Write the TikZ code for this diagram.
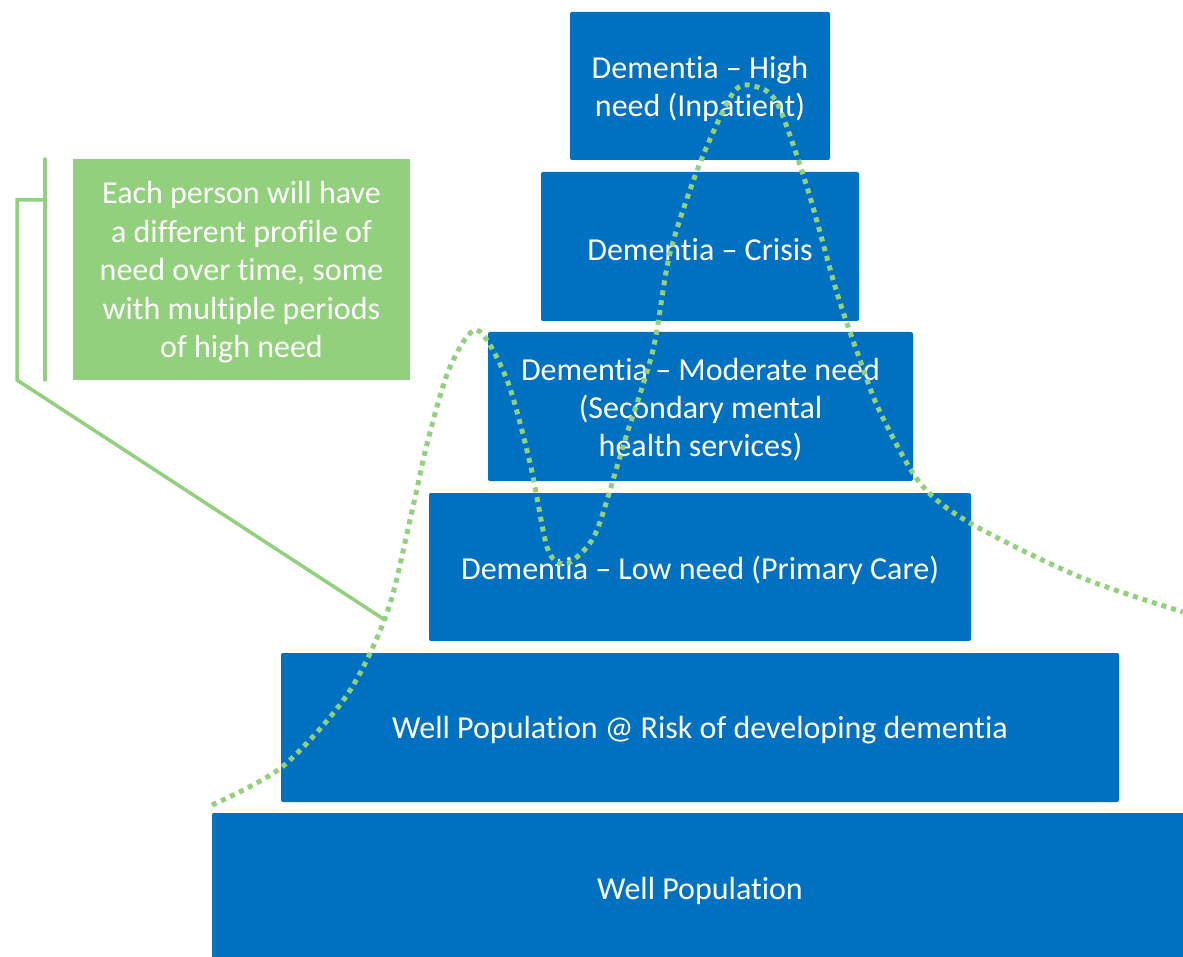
\documentclass[tikz,border=0pt]{standalone}
\usepackage{fontspec}
\setmainfont{Carlito}[Ligatures={NoCommon}]
\definecolor{pblue}{HTML}{0070C0}
\definecolor{pgreen}{RGB}{146,208,125}
\begin{document}
\begin{tikzpicture}[x=1pt,y=-1pt,
  tier/.style={fill=pblue, draw=none, rounded corners=2pt, inner sep=0pt},
  tiertext/.style={text=white, font=\fontsize{32}{38}\selectfont, align=center, inner sep=0pt},
  note/.style={fill=pgreen, draw=none, inner sep=0pt},
  notetext/.style={text=white, font=\fontsize{32}{38.5}\selectfont, align=center, inner sep=0pt},
  bracket/.style={draw=pgreen, line width=3.5pt},
  profile/.style={draw=pgreen, line width=5pt, dash pattern=on 5pt off 5pt}]
\useasboundingbox (0,0) rectangle (1183,957);
\begin{scope}
\clip (0,0) rectangle (1183,957);
\node[tier, minimum width=976pt, minimum height=149pt] (well) at (700,887.5) {};
\end{scope}
\node[tier, minimum width=838pt, minimum height=149pt] (risk) at (700,727.5) {};
\node[tier, minimum width=542pt, minimum height=148pt] (low) at (700,567) {};
\node[tier, minimum width=425pt, minimum height=149pt] (mod) at (700.5,406.5) {};
\node[tier, minimum width=318pt, minimum height=149pt] (crisis) at (700,246.5) {};
\node[tier, minimum width=260pt, minimum height=148pt] (high) at (700,86) {};
\node[note, minimum width=337pt, minimum height=221pt] (note) at (241.5,269.5) {};
\node[tiertext] (well-t) at ([yshift=-3pt]well.center) {Well Population};
\node[tiertext] (risk-t) at ([yshift=-3pt]risk.center) {Well Population @ Risk of developing dementia};
\node[tiertext] (low-t) at ([yshift=-3pt]low.center) {Dementia – Low need (Primary Care)};
\node[tiertext] (mod-t) at ([yshift=-3pt]mod.center) {Dementia – Moderate need\\(Secondary mental\\health services)};
\node[tiertext] (crisis-t) at ([yshift=-3pt]crisis.center) {Dementia – Crisis};
\node[tiertext] (high-t) at ([yshift=-3pt]high.center) {Dementia – High\\need (Inpatient)};
\node[notetext] (note-t) at ([yshift=-3pt]note.center) {Each person will have\\a different profile of\\need over time, some\\with multiple periods\\of high need};
% bracket
\coordinate (btop) at (45,159);
\coordinate (bbot) at (45,380);
\coordinate (tip) at (385,620);
\draw[bracket, line cap=round] (btop) -- (bbot);
\draw[bracket] (45,200) -- (17,200) -- (17,380) -- (tip);
% profile curve
\draw[profile] plot[smooth, tension=0.5] coordinates {
(212,805) (282,767) (347,695) (387,613) (410,520) (428,440) (450,367) (477,330)
(507,380) (530,463) (547,547) (562,564) (577,557) (597,530) (625,440) (653,350)
(670,253) (700,163) (733,93) (753,86) (777,103) (807,187) (837,293) (860,360)
(880,412) (920,483) (970,523) (1080,577) (1183,612)};
\end{tikzpicture}
\end{document}
